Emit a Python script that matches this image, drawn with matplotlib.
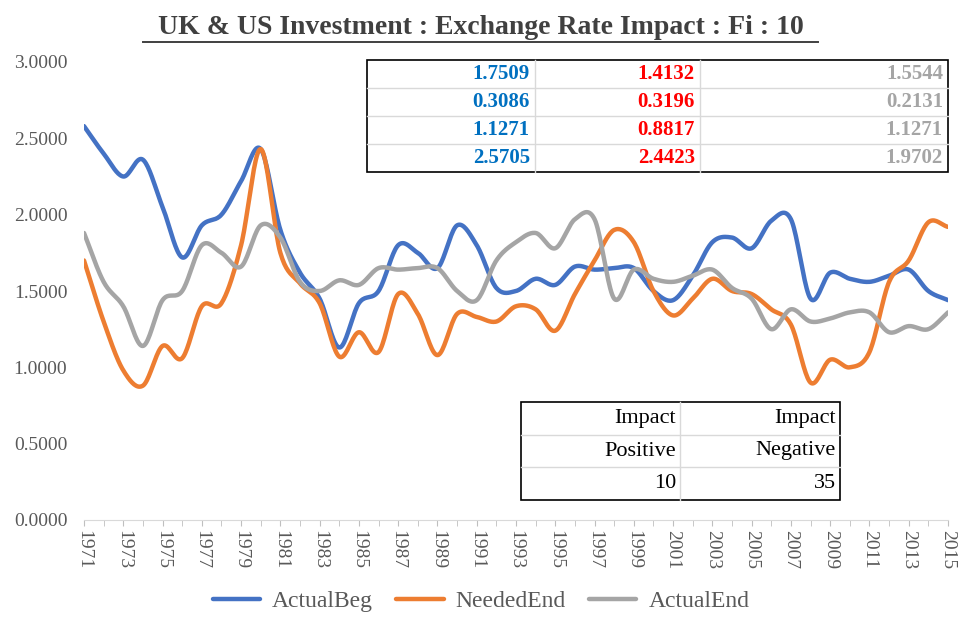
import numpy as np
import matplotlib
matplotlib.use("Agg")
import matplotlib.pyplot as plt
from matplotlib.patches import Rectangle

years = list(range(1971, 2016))
actual_beg = [2.58,2.40,2.25,2.36,2.05,1.72,1.93,2.00,2.22,2.43,1.90,1.62,1.45,1.13,1.42,1.50,1.80,1.75,1.65,1.93,
              1.80,1.52,1.50,1.58,1.54,1.66,1.64,1.65,1.65,1.50,1.44,1.60,1.82,1.85,1.78,1.96,1.97,1.45,1.62,1.58,
              1.56,1.60,1.64,1.50,1.44]
needed_end = [1.70,1.30,0.98,0.88,1.14,1.06,1.40,1.42,1.80,2.43,1.75,1.55,1.42,1.07,1.23,1.10,1.48,1.35,1.08,1.35,
              1.33,1.30,1.40,1.38,1.24,1.48,1.70,1.90,1.82,1.50,1.34,1.45,1.58,1.50,1.48,1.38,1.28,0.90,1.05,1.00,
              1.10,1.56,1.70,1.95,1.92]
actual_end = [1.88,1.56,1.40,1.14,1.44,1.50,1.80,1.75,1.66,1.93,1.85,1.56,1.50,1.57,1.54,1.65,1.64,1.65,1.65,1.50,
              1.44,1.70,1.82,1.88,1.78,1.97,1.97,1.45,1.64,1.58,1.56,1.60,1.64,1.52,1.45,1.25,1.38,1.30,1.32,1.36,
              1.36,1.23,1.27,1.25,1.36]
series_names = ["ActualBeg", "NeededEnd", "ActualEnd"]
colors = ["#4472C4", "#ED7D31", "#A5A5A5"]
top_table = [["1.7509","1.4132","1.5544"],["0.3086","0.3196","0.2131"],
             ["1.1271","0.8817","1.1271"],["2.5705","2.4423","1.9702"]]
top_colors = ["#0070C0", "#FF0000", "#A5A5A5"]
bot_table = [["Impact","Impact"],["Positive","Negative"],["10","35"]]

def smooth(x, y, n=20):
    x = np.asarray(x, float); y = np.asarray(y, float)
    P = np.column_stack([x, y])
    P = np.vstack([P[0]*2-P[1], P, P[-1]*2-P[-2]])
    out = []
    for i in range(1, len(P)-2):
        p0,p1,p2,p3 = P[i-1],P[i],P[i+1],P[i+2]
        t = np.linspace(0,1,n,endpoint=False)[:,None]
        m1 = (p2-p0)/2; m2 = (p3-p1)/2
        h00=2*t**3-3*t**2+1; h10=t**3-2*t**2+t; h01=-2*t**3+3*t**2; h11=t**3-t**2
        out.append(h00*p1+h10*m1+h01*p2+h11*m2)
    out.append(P[-2][None,:])
    out = np.vstack(out)
    return out[:,0], out[:,1]

plt.rcParams['font.family'] = ['Liberation Serif', 'DejaVu Serif']
fig = plt.figure(figsize=(9.62, 6.28), dpi=100)
ax = fig.add_axes([84/962, 1-520/628, (948-84)/962, (520-62)/628])
for ys, c, nm in zip([actual_beg, needed_end, actual_end], colors, series_names):
    sx, sy = smooth(years, ys)
    ax.plot(sx, sy, color=c, lw=3.2, label=nm, solid_capstyle='round')
ax.set_xlim(1971, 2015)
ax.set_ylim(0, 3)
ax.set_yticks(np.arange(0, 3.01, 0.5))
ax.set_yticklabels([f"{v:.4f}" for v in np.arange(0, 3.01, 0.5)], fontsize=14, color="#595959")
ax.set_xticks(range(1971, 2016, 2))
ax.set_xticklabels([str(y) for y in range(1971, 2016, 2)], rotation=270, fontsize=14, color="#595959")
ax.set_xticks(range(1971, 2016), minor=True)
ax.tick_params(axis='y', length=0, pad=12)
ax.tick_params(axis='x', which='both', length=4, color="#BFBFBF", pad=3)
for s in ['top','right','left']:
    ax.spines[s].set_visible(False)
ax.spines['bottom'].set_color("#D9D9D9")

fig.text(481/962, 1-27/628, "UK & US Investment : Exchange Rate Impact : Fi : 10", ha='center', va='center',
         fontsize=20, fontweight='bold', color="#404040")
fig.add_artist(plt.Line2D([143/962, 818/962], [1-42/628, 1-42/628], color="#404040", lw=1.4))

def px(x, y):
    return x/962, 1-y/628

# top table
x0, x1, y0, y1 = 367, 948, 60, 172
fig.add_artist(Rectangle(px(x0, y1), (x1-x0)/962, (y1-y0)/628, fill=True, fc='white', ec='black', lw=1.2))
cols = [367, 535, 700, 948]
rh = (y1-y0)/4
for i in range(1,4):
    fig.add_artist(plt.Line2D([x0/962, x1/962], [1-(y0+i*rh)/628]*2, color="#D9D9D9", lw=1))
for cx in cols[1:3]:
    fig.add_artist(plt.Line2D([cx/962]*2, [1-y0/628, 1-y1/628], color="#D9D9D9", lw=1))
for r, row in enumerate(top_table):
    for c, val in enumerate(row):
        fig.text((cols[c+1]-5)/962, 1-(y0+(r+0.5)*rh)/628, val, ha='right', va='center',
                 fontsize=15, fontweight='bold', color=top_colors[c])

# bottom table
x0, x1, y0, y1 = 521, 840, 402, 500
fig.add_artist(Rectangle(px(x0, y1), (x1-x0)/962, (y1-y0)/628, fill=True, fc='white', ec='black', lw=1.2))
cols = [521, 680, 840]
rh = (y1-y0)/3
for i in range(1,3):
    fig.add_artist(plt.Line2D([x0/962, x1/962], [1-(y0+i*rh)/628]*2, color="#D9D9D9", lw=1))
fig.add_artist(plt.Line2D([680/962]*2, [1-y0/628, 1-y1/628], color="#D9D9D9", lw=1))
for r, row in enumerate(bot_table):
    for c, val in enumerate(row):
        fig.text((cols[c+1]-4)/962, 1-(y0+(r+0.5)*rh)/628, val, ha='right', va='center',
                 fontsize=16, color="black")

fig.legend(loc='center', bbox_to_anchor=(481/962, 1-601/628), ncol=3, frameon=False,
           fontsize=17, handlelength=2.0, columnspacing=1.0, handletextpad=0.5, labelcolor="#595959")
fig.savefig("out.png", dpi=100)
